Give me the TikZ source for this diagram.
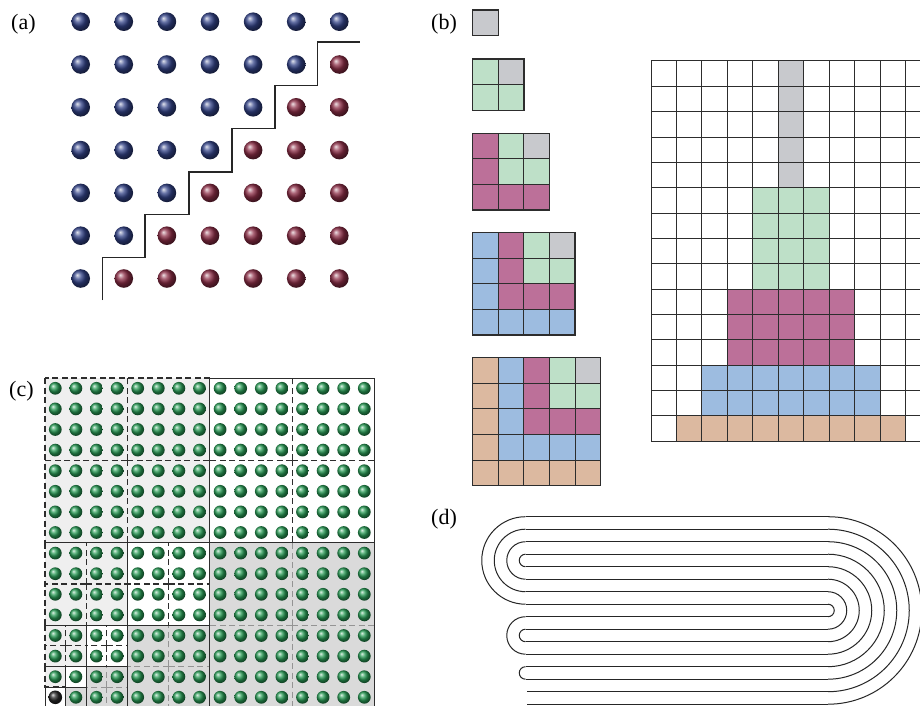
\documentclass[tikz,border=0pt]{standalone}
\usepackage{fontspec}
\setmainfont{Liberation Serif}
\definecolor{col1}{RGB}{200,201,205}
\definecolor{col2}{RGB}{190,224,200}
\definecolor{col3}{RGB}{188,112,153}
\definecolor{col4}{RGB}{157,188,224}
\definecolor{col5}{RGB}{220,185,160}
\definecolor{ballblue}{RGB}{50,66,135}
\definecolor{ballred}{RGB}{140,45,70}
\definecolor{ballgreen}{RGB}{40,155,85}
\definecolor{lightfill}{RGB}{239,239,239}
\definecolor{grayfill}{RGB}{218,218,218}
\definecolor{lineink}{RGB}{45,45,45}
\newcommand\mycross[4]{%
  \draw[#1] (#2,#3) -- (#2,{#3-#4});
  \draw[#1] (#2,#3) -- (#2,{#3+#4});
  \draw[#1] (#2,#3) -- ({#2-#4},#3);
  \draw[#1] (#2,#3) -- ({#2+#4},#3);}
\begin{document}
\begin{tikzpicture}[x=1pt,y=-1pt,
  lbl/.style={font=\fontsize{22}{25}\selectfont, inner sep=0pt, anchor=base west, text=black},
  ink/.style={draw=lineink, line width=1pt},
  inkthick/.style={draw=lineink, line width=1.3pt},
  dkdash/.style={draw=lineink, line width=1.1pt, dash pattern=on 6pt off 3.5pt},
  ltdash/.style={draw=black!42, line width=1pt, dash pattern=on 6pt off 3.5pt},
  tube/.style={draw=black!85, line width=1pt},
  stair/.style={draw=black!85, line width=1.6pt}]
\useasboundingbox[fill=white] (0,0) rectangle (920,706);

% labels
\node[lbl] (la) at (11,29.5) {(a)};
\node[lbl] (lb) at (431,29.5) {(b)};
\node[lbl] (lc) at (9,396) {(c)};
\node[lbl] (ld) at (431,524) {(d)};

% ---------- panel (a)
\foreach \i in {0,...,6}{
  \foreach \j in {0,...,6}{
    \pgfmathtruncatemacro\s{\i+\j}
    \ifnum\s>6
      \shade[ball color=ballred] ({80.7+43.1*\j},{21.7+42.8*\i}) circle[radius=9.3];
    \else
      \shade[ball color=ballblue] ({80.7+43.1*\j},{21.7+42.8*\i}) circle[radius=9.3];
    \fi
  }
}
\draw[stair] (102.3,300) -- (102.3,257.3) -- (145,257.3) -- (145,214.3) -- (189,214.3)
  -- (189,171.7) -- (231.7,171.7) -- (231.7,128.3) -- (275,128.3) -- (275,85.7)
  -- (317.3,85.7) -- (317.3,42.3) -- (360,42.3);

% ---------- panel (b) small squares
\foreach \n/\t in {1/10,2/59,3/133.3,4/232.7,5/357.7}{
  \pgfmathtruncatemacro\nm{\n-1}
  \foreach \c in {0,...,\nm}{
    \foreach \r in {0,...,\nm}{
      \pgfmathtruncatemacro\m{\n-min(\c,\n-1-\r)}
      \fill[col\m] ({472.7+25.6*\c},{\t+25.6*\r}) rectangle ++(25.6,25.6);
    }
  }
  \foreach \k in {0,...,\n}{
    \draw[ink] ({472.7+25.6*\k},\t) -- ++(0,{25.6*\n});
    \draw[ink] (472.7,{\t+25.6*\k}) -- ++({25.6*\n},0);
  }
  \draw[inkthick] (472.7,\t) rectangle ++({25.6*\n},{25.6*\n});
}

% ---------- panel (b) big grid
\fill[col1] ({651+25.45*5},61) rectangle ++(25.45,{25.35*5});
\fill[col2] ({651+25.45*4},{61+25.35*5}) rectangle ++({25.45*3},{25.35*4});
\fill[col3] ({651+25.45*3},{61+25.35*9}) rectangle ++({25.45*5},{25.35*3});
\fill[col4] ({651+25.45*2},{61+25.35*12}) rectangle ++({25.45*7},{25.35*2});
\fill[col5] ({651+25.45*1},{61+25.35*14}) rectangle ++({25.45*9},{25.35*1});
\foreach \k in {0,...,11}{
  \draw[ink] ({651+25.45*\k},61) -- ++(0,{25.35*15});
}
\foreach \k in {0,...,15}{
  \draw[ink] (651,{61+25.35*\k}) -- ++({25.45*11},0);
}

% ---------- panel (c)
\begin{scope}[shift={(45pt,-378pt)}, x=20.6pt, y=-20.6pt]
  \fill[lightfill] (0,0) rectangle (8,8);
  \fill[white] (8,0) rectangle (16,8);
  \fill[grayfill] (8,8) rectangle (16,16);
  \fill[lightfill] (0,8) rectangle (4,12);
  \fill[white] (4,8) rectangle (8,12);
  \fill[grayfill] (4,12) rectangle (8,16);
  \fill[lightfill] (0,12) rectangle (2,14);
  \fill[white] (2,12) rectangle (4,14);
  \fill[grayfill] (2,14) rectangle (4,16);
  \fill[lightfill] (0,14) rectangle (1,15);
  \fill[white] (1,14) rectangle (2,15);
  \fill[grayfill] (1,15) rectangle (2,16);
  \fill[white] (0,15) rectangle (1,16);
  % internal dashed crosses
  \mycross{dkdash}{4}{4}{4}
  \mycross{dkdash}{12}{4}{4}
  \mycross{ltdash}{12}{12}{4}
  \mycross{dkdash}{2}{10}{2}
  \mycross{dkdash}{6}{10}{2}
  \mycross{ltdash}{6}{14}{2}
  \mycross{dkdash}{1}{13}{1}
  \mycross{dkdash}{3}{13}{1}
  \mycross{ltdash}{3}{15}{1}
  % dashed borders of light blocks
  \draw[dkdash] (0,0) rectangle (8,8);
  \draw[dkdash] (0,8) rectangle (4,12);
  \draw[dkdash] (0,12) rectangle (2,14);
  \draw[dkdash] (0,14) rectangle (1,15);
  % solid borders
  \draw[ink] (8,0) rectangle (16,8);
  \draw[ink] (8,8) rectangle (16,16);
  \draw[ink] (4,8) rectangle (8,12);
  \draw[ink] (4,12) rectangle (8,16);
  \draw[ink] (2,12) rectangle (4,14);
  \draw[ink] (2,14) rectangle (4,16);
  \draw[ink] (1,14) rectangle (2,15);
  \draw[ink] (1,15) rectangle (2,16);
  \draw[ink] (0,15) rectangle (1,16);
  % spheres
  \foreach \i in {0,...,15}{
    \foreach \j in {0,...,15}{
      \shade[ball color=ballgreen] ({\j+0.5},{\i+0.5}) circle[radius=0.31];
    }
  }
  \fill[white] (0.5,15.5) circle[radius=0.33];
  \shade[ball color=black!85] (0.5,15.5) circle[radius=0.33];
\end{scope}

% ---------- panel (d)
\foreach \k in {0,...,13}{
  \draw[tube] (525.5,{516.7+12.5*\k}) -- (828,{516.7+12.5*\k});
}
\draw[tube] (527,691.7) -- (828,691.7);
\draw[tube] (527,704.2) -- (828,704.2);
% left folds (start at lower line, go round the left)
\draw[tube] (525.5,604.2) arc[start angle=90, end angle=270, radius=43.75];
\draw[tube] (525.5,591.7) arc[start angle=90, end angle=270, radius=31.25];
\draw[tube] (525.5,579.2) arc[start angle=90, end angle=270, radius=18.75];
\draw[tube] (525.5,566.7) arc[start angle=90, end angle=270, radius=6.25];
\draw[tube] (525.5,654.2) arc[start angle=90, end angle=270, radius=18.75];
\draw[tube] (525.5,641.7) arc[start angle=90, end angle=270, radius=6.25];
\draw[tube] (525.5,679.2) arc[start angle=90, end angle=270, radius=6.25];
% right folds (start at upper line, go round the right)
\foreach \k in {0,...,7}{
  \draw[tube] (828,{516.7+12.5*\k}) arc[start angle=-90, end angle=90, radius={(15-2*\k)*6.25}];
}
\end{tikzpicture}
\end{document}
